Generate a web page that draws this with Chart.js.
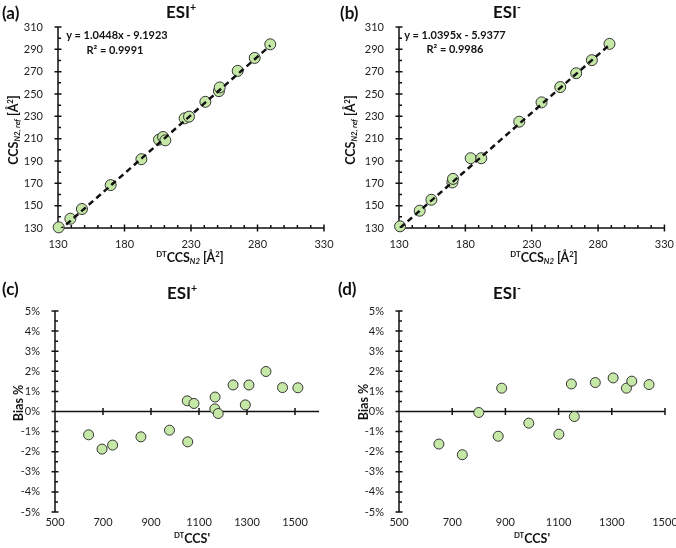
<!DOCTYPE html>
<html>
<head>
<meta charset="utf-8">
<script src="https://cdn.jsdelivr.net/npm/chart.js@4.4.0/dist/chart.umd.min.js"></script>
<style>
  body { margin: 0; background: #fff; width: 676px; height: 548px; position: relative; overflow: hidden; font-family: Lato, "Noto Sans", sans-serif; color: #111; }
  canvas { position: absolute; }
  .t { position: absolute; white-space: nowrap; font-weight: bold; transform: translate(-50%, -50%); }
  .lab { position: absolute; font-weight: bold; font-size: 17px; transform: translateY(-50%); }
  .ttl { font-size: 17px; }
  .ytl { transform: translate(-50%, -50%) rotate(-90deg); font-size: 12.5px; }
  .xtl { font-size: 12.5px; }
  .eq { font-size: 11px; }
  sub, sup { font-size: 62%; }
  sup { vertical-align: 0.6em; line-height: 0; }
  sub { vertical-align: -0.3em; line-height: 0; font-style: italic; }
</style>
</head>
<body>
<canvas id="chartA" width="338" height="270" style="left:0;top:0"></canvas>
<canvas id="chartB" width="338" height="270" style="left:338px;top:0"></canvas>
<canvas id="chartC" width="338" height="278" style="left:0;top:270px"></canvas>
<canvas id="chartD" width="338" height="278" style="left:338px;top:270px"></canvas>

<div class="lab" style="left:2px;top:12px">(a)</div>
<div class="t ttl" style="left:181px;top:11px">ESI<sup>+</sup></div>
<div class="lab" style="left:340px;top:12px">(b)</div>
<div class="t ttl" style="left:507px;top:11px">ESI<sup>-</sup></div>
<div class="lab" style="left:2px;top:288px">(c)</div>
<div class="t ttl" style="left:182px;top:292px">ESI<sup>+</sup></div>
<div class="lab" style="left:338px;top:288px">(d)</div>
<div class="t ttl" style="left:507px;top:292px">ESI<sup>-</sup></div>

<div class="t ytl" style="left:13px;top:130px">CCS<sub>N2, ref</sub> [Å<sup>2</sup>]</div>
<div class="t ytl" style="left:350px;top:130px">CCS<sub>N2, ref</sub> [Å<sup>2</sup>]</div>
<div class="t ytl" style="left:18px;top:403px">Bias %</div>
<div class="t ytl" style="left:363px;top:402px">Bias %</div>

<div class="t xtl" style="left:190px;top:257px"><sup>DT</sup>CCS<sub>N2</sub> [Å<sup>2</sup>]</div>
<div class="t xtl" style="left:544px;top:257px"><sup>DT</sup>CCS<sub>N2</sub> [Å<sup>2</sup>]</div>
<div class="t xtl" style="left:192px;top:538px"><sup>DT</sup>CCS'</div>
<div class="t xtl" style="left:532px;top:538px"><sup>DT</sup>CCS'</div>

<div class="t eq" style="left:117px;top:34px">y = 1.0448x - 9.1923</div>
<div class="t eq" style="left:115px;top:49px">R² = 0.9991</div>
<div class="t eq" style="left:455px;top:34px">y = 1.0395x - 5.9377</div>
<div class="t eq" style="left:455px;top:48px">R² = 0.9986</div>

<script>
// (a) ESI+ : DT CCS vs reference CCS
const posDtCcs = [130.5, 139.3, 148, 169.6, 192.7, 205.9, 209, 210.7, 225.2, 228.5, 240.8, 251, 251.6, 265.1, 277.9, 289.6];
const posRefCcs = [130.6, 138.3, 147, 168.4, 191.6, 209.1, 211.5, 208.5, 228.2, 229.7, 243, 252.6, 255.9, 270.7, 282.3, 294.5];
const posFit = [1.0448, -9.1923]; // slope, intercept

// (b) ESI- : DT CCS vs reference CCS
const negDtCcs = [130.8, 145.6, 154.4, 170.2, 170.7, 184, 192, 220.6, 237.4, 251.5, 263.5, 275.3, 288.6];
const negRefCcs = [131.5, 145.5, 155.3, 170.8, 174, 192.5, 192.5, 225.2, 242.5, 256.2, 268.6, 280.3, 294.9];
const negFit = [1.0395, -5.9377];

// (c) ESI+ bias
const posBiasX = [640, 696, 740, 858, 977, 1053, 1051, 1079, 1167, 1166, 1180, 1242, 1308, 1293, 1379, 1448, 1512];
const posBiasY = [-1.16, -1.87, -1.67, -1.26, -0.93, -1.51, 0.53, 0.40, 0.72, 0.13, -0.10, 1.32, 1.32, 0.33, 1.99, 1.19, 1.18];

// (d) ESI- bias
const negBiasX = [650, 738, 800, 873, 886, 988, 1101, 1148, 1159, 1238, 1305, 1355, 1375, 1440];
const negBiasY = [-1.62, -2.15, -0.05, -1.23, 1.16, -0.58, -1.13, 1.37, -0.25, 1.44, 1.67, 1.16, 1.51, 1.34];

// tick labels
const ccsTicksX = [130, 180, 230, 280, 330];
const ccsTicksY = [130, 150, 170, 190, 210, 230, 250, 270, 290, 310];
const biasTicksY = [-5, -4, -3, -2, -1, 0, 1, 2, 3, 4, 5];
const biasTicksX = [500, 700, 900, 1100, 1300, 1500];

const pointFill = '#c6e8a7';
const tickFont = { family: 'Lato, "Noto Sans", sans-serif', size: 11 };

// Excel-like axes: axis lines + major/minor tick marks
const excelAxes = {
    id: 'excelAxes',
    beforeDatasetsDraw(chart, args, opts) {
        const { ctx, chartArea: a, scales: { x, y } } = chart;
        const y0 = y.getPixelForValue(opts.crossY);
        ctx.save();
        ctx.strokeStyle = '#111';
        ctx.lineWidth = 1.5;
        ctx.beginPath();
        ctx.moveTo(a.left, a.top);
        ctx.lineTo(a.left, a.bottom);
        ctx.moveTo(a.left, y0);
        ctx.lineTo(a.right, y0);
        y.ticks.forEach(t => {
            const p = y.getPixelForValue(t.value);
            ctx.moveTo(a.left - 3.5, p);
            ctx.lineTo(a.left + 3.5, p);
        });
        for (let v = y.min + opts.yMinor; v < y.max; v += opts.yMinor * 2) {
            const p = y.getPixelForValue(v);
            ctx.moveTo(a.left, p);
            ctx.lineTo(a.left + 3, p);
        }
        x.ticks.forEach(t => {
            if (t.value === x.min) return;
            const p = x.getPixelForValue(t.value);
            ctx.moveTo(p, y0 - 3.5);
            ctx.lineTo(p, y0 + 3.5);
        });
        if (opts.xMinor) {
            for (let v = x.min + opts.xMinor; v < x.max; v += opts.xMinor) {
                if ((v - x.min) % opts.xMajor === 0) continue;
                const p = x.getPixelForValue(v);
                ctx.moveTo(p, y0);
                ctx.lineTo(p, y0 - 3);
            }
        }
        ctx.stroke();
        ctx.restore();
    }
};

function pts(xs, ys) {
    return xs.map((v, i) => ({ x: v, y: ys[i] }));
}

function fitLine(xs, fit) {
    const lo = Math.min(...xs), hi = Math.max(...xs);
    return [lo, hi].map(v => ({ x: v, y: fit[0] * v + fit[1] }));
}

function makeChart(id, cfg) {
    const datasets = [];
    if (cfg.fit) {
        datasets.push({
            type: 'line',
            data: cfg.fit,
            borderColor: '#111',
            borderWidth: 2.5,
            borderDash: [6, 4],
            pointRadius: 0,
            fill: false
        });
    }
    datasets.push({
        type: 'scatter',
        data: cfg.points,
        backgroundColor: pointFill,
        borderColor: '#333',
        borderWidth: 1,
        pointRadius: cfg.radius,
        clip: false
    });
    return new Chart(document.getElementById(id), {
        type: 'scatter',
        data: { datasets },
        options: {
            responsive: false,
            animation: false,
            layout: { padding: cfg.padding },
            plugins: {
                legend: { display: false },
                tooltip: { enabled: false },
                excelAxes: cfg.axes
            },
            scales: {
                x: {
                    type: 'linear',
                    min: cfg.xMin, max: cfg.xMax,
                    grid: { display: false },
                    border: { display: false },
                    ticks: { font: tickFont, color: '#222', padding: cfg.xPad, maxRotation: 0, autoSkip: false, callback: v => String(v) },
                    afterBuildTicks: s => { s.ticks = cfg.xTicks.map(v => ({ value: v })); },
                    afterFit: s => { s.height = cfg.xHeight; }
                },
                y: {
                    type: 'linear',
                    min: cfg.yMin, max: cfg.yMax,
                    grid: { display: false },
                    border: { display: false },
                    ticks: { font: tickFont, color: '#222', padding: 7, autoSkip: false, callback: cfg.yFmt },
                    afterBuildTicks: s => { s.ticks = cfg.yTicks.map(v => ({ value: v })); },
                    afterFit: s => { s.width = 40; }
                }
            }
        },
        plugins: [excelAxes]
    });
}

makeChart('chartA', {
    points: pts(posDtCcs, posRefCcs), fit: fitLine(posDtCcs, posFit), radius: 5.5,
    xMin: 130, xMax: 330, yMin: 130, yMax: 310, xTicks: ccsTicksX, yTicks: ccsTicksY, yFmt: v => String(v),
    padding: { top: 27, left: 18, right: 14, bottom: 0 }, xHeight: 42, xPad: 2,
    axes: { crossY: 130, yMinor: 10, xMinor: 10, xMajor: 50 }
});

makeChart('chartB', {
    points: pts(negDtCcs, negRefCcs), fit: fitLine(negDtCcs, negFit), radius: 5.5,
    xMin: 130, xMax: 330, yMin: 130, yMax: 310, xTicks: ccsTicksX, yTicks: ccsTicksY, yFmt: v => String(v),
    padding: { top: 27, left: 21, right: 11, bottom: 0 }, xHeight: 42, xPad: 2,
    axes: { crossY: 130, yMinor: 10, xMinor: 10, xMajor: 50 }
});

const pct = v => v + '%';

makeChart('chartC', {
    points: pts(posBiasX, posBiasY), radius: 5,
    xMin: 500, xMax: 1600, yMin: -5, yMax: 5, xTicks: biasTicksX, yTicks: biasTicksY, yFmt: pct,
    padding: { top: 41, left: 15, right: 19, bottom: 0 }, xHeight: 36, xPad: -4,
    axes: { crossY: 0, yMinor: 0.5 }
});

makeChart('chartD', {
    points: pts(negBiasX, negBiasY), radius: 5,
    xMin: 500, xMax: 1500, yMin: -5, yMax: 5, xTicks: biasTicksX, yTicks: biasTicksY, yFmt: pct,
    padding: { top: 41, left: 21, right: 11, bottom: 0 }, xHeight: 36, xPad: -4,
    axes: { crossY: 0, yMinor: 0.5 }
});
</script>
</body>
</html>
